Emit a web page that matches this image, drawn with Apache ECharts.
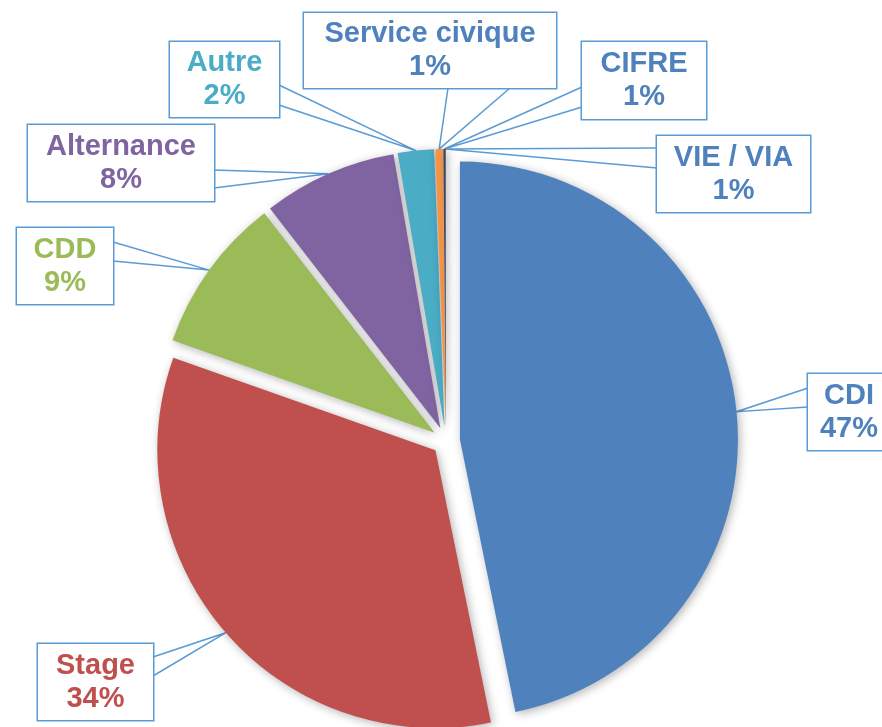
<!DOCTYPE html>
<html>
<head>
<meta charset="utf-8">
<script src="https://cdn.jsdelivr.net/npm/echarts@6/dist/echarts.min.js"></script>
<style>
  html, body { margin: 0; padding: 0; background: #fff; }
  #chart { width: 882px; height: 727px; }
</style>
</head>
<body>
<div id="chart"></div>
<script>
var categories = ['CDI', 'Stage', 'CDD', 'Alternance', 'Autre', 'Service civique', 'CIFRE', 'VIE / VIA'];
var values = [46.8, 33.6, 9.1, 7.8, 2.1, 0.45, 0.12, 0.03];
var shares = [47, 34, 9, 8, 2, 1, 1, 1];
var colors = ['#4F81BD', '#C0504D', '#9BBB59', '#8064A2', '#4BACC6', '#F79646', '#2C4D75', '#772C2A'];
var textColors = ['#4F81BD', '#C0504D', '#9BBB59', '#8064A2', '#4BACC6', '#4F81BD', '#4F81BD', '#4F81BD'];

// callout boxes: centre, outer size, side the pointer enters and its two feet along that side
var boxes = [
  { x: 849, y: 412, w: 82, h: 76, side: 'left', a: -24, b: -5 },
  { x: 95.5, y: 682, w: 115, h: 76, side: 'right', a: -25, b: -6 },
  { x: 65, y: 266, w: 96, h: 76, side: 'right', a: -24, b: -5 },
  { x: 121, y: 163, w: 186, h: 76, side: 'right', a: 7, b: 25 },
  { x: 224.5, y: 79.5, w: 109, h: 75, side: 'right', a: 5.5, b: 25.5 },
  { x: 430, y: 50.5, w: 252, h: 75, side: 'bottom', a: 18, b: 80 },
  { x: 644, y: 80.5, w: 124, h: 77, side: 'left', a: 6.5, b: 26.5 },
  { x: 733.5, y: 174, w: 153, h: 76, side: 'left', a: -26, b: -6 }
];

var CX = 446, CY = 441, R = 278, OFF = 14;
var total = values.reduce(function (s, v) { return s + v; }, 0);

// mid angle of a slice, clockwise from 12 o'clock
function midAngle (i) {
  var before = 0;
  for (var k = 0; k < i; k++) before += values[k];
  return (before + values[i] / 2) / total * Math.PI * 2;
}

function apex (i) {
  var ang = midAngle(i);
  return [CX + (R + OFF) * Math.sin(ang), CY - (R + OFF) * Math.cos(ang)];
}

function foot (b, t) {
  if (b.side === 'left') return [b.x - b.w / 2, b.y + t];
  if (b.side === 'right') return [b.x + b.w / 2, b.y + t];
  return [b.x + t, b.y + b.h / 2];
}

var chart = echarts.init(document.getElementById('chart'));

// one pie per slice so every slice can be pulled out along its own bisector
var series = categories.map(function (name, i) {
  var ang = midAngle(i);
  return {
    type: 'pie',
    center: [CX + OFF * Math.sin(ang), CY - OFF * Math.cos(ang)],
    radius: R,
    startAngle: 90,
    clockwise: true,
    avoidLabelOverlap: false,
    emphasis: { disabled: true },
    labelLayout: function (params) {
      var b = boxes[i];
      return {
        x: b.x,
        y: b.y,
        align: 'center',
        verticalAlign: 'middle',
        labelLinePoints: [foot(b, b.a), apex(i), foot(b, b.b)]
      };
    },
    data: values.map(function (v, j) {
      if (j !== i) {
        return {
          name: categories[j],
          value: v,
          itemStyle: { opacity: 0 },
          label: { show: false },
          labelLine: { show: false }
        };
      }
      var b = boxes[j];
      return {
        name: categories[j],
        value: v,
        itemStyle: {
          color: colors[j],
          shadowBlur: 10,
          shadowColor: 'rgba(0,0,0,0.3)',
          shadowOffsetX: 2,
          shadowOffsetY: 2
        },
        label: {
          show: true,
          position: 'outside',
          fontFamily: '"Liberation Sans", Arial, sans-serif',
          fontWeight: 'bold',
          fontSize: 29,
          lineHeight: 33,
          align: 'center',
          color: textColors[j],
          backgroundColor: '#fff',
          borderColor: '#5B9BD5',
          borderWidth: 1.5,
          width: b.w,
          padding: [(b.h - 66) / 2, 0],
          formatter: categories[j] + '\n' + shares[j] + '%'
        },
        labelLine: {
          show: true,
          lineStyle: { color: '#5B9BD5', width: 1.5 }
        }
      };
    })
  };
});

chart.setOption({
  backgroundColor: '#fff',
  animation: false,
  series: series
});
</script>
</body>
</html>
